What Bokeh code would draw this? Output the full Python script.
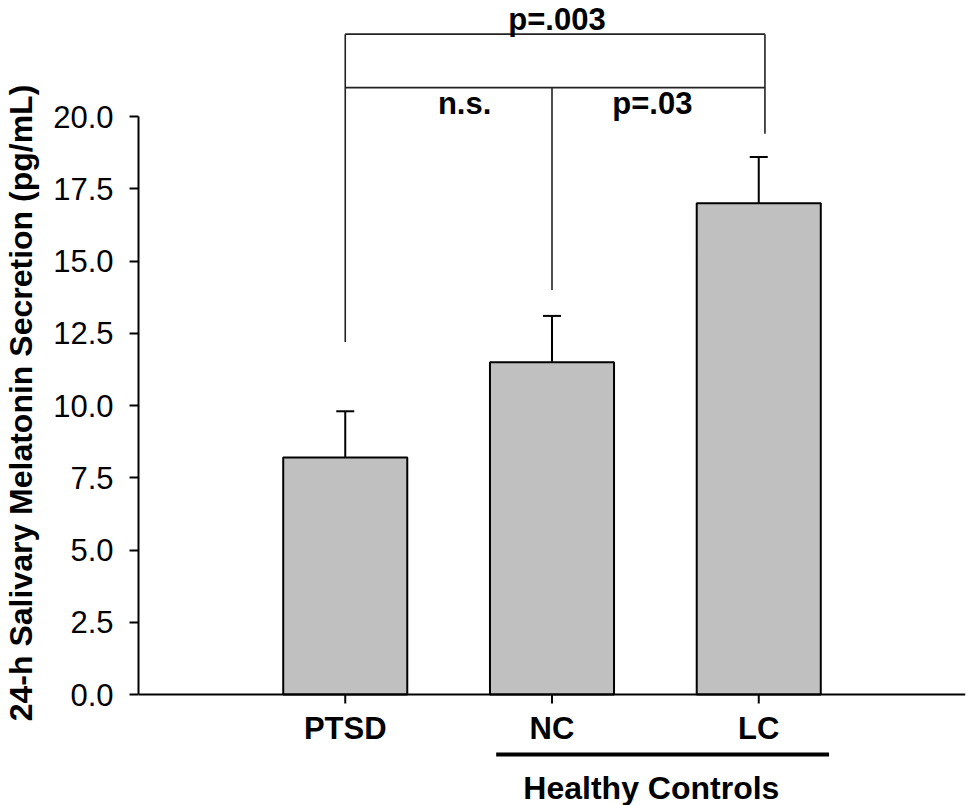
from bokeh.plotting import figure
from bokeh.models import (Range1d, LinearAxis, FixedTicker, NumeralTickFormatter,
                          Span, Whisker, TeeHead, ColumnDataSource)
from bokeh.core.properties import value
from bokeh.embed import file_html
from bokeh.resources import INLINE

# ---------------- data ----------------
groups = ["PTSD", "NC", "LC"]
positions = [1, 2, 3]
means = [8.2, 11.5, 17.0]
sems = [1.6, 1.6, 1.6]
y_ticks = [0, 2.5, 5, 7.5, 10, 12.5, 15, 17.5, 20]
y_label = "24-h Salivary Melatonin Secretion (pg/mL)"
group_label = "Healthy Controls"
group_members = ["NC", "LC"]

# significance brackets (in pg/mL units)
top_level = 22.85
mid_level = 21.0
foot_levels = [12.2, 14.0, 19.4]          # PTSD, NC, LC
p_labels = ["p=.003", "n.s.", "p=.03"]

# ---------------- layout / style ----------------
W, H = 967, 805
PX = 28.9            # pixels per unit on y
ZERO_PX = 694        # canvas y of value 0
FONT = "Liberation Sans"
FS = "31px"
SHIFT = 10           # baseline correction for text glyphs

pos = dict(zip(groups, positions))

p = figure(width=W, height=H, title=None,
           x_range=Range1d(0, 4),
           y_range=Range1d(-(H - ZERO_PX) / PX, ZERO_PX / PX),
           x_axis_type=None, y_axis_type=None,
           output_backend="svg", toolbar_location=None,
           min_border_left=138, min_border_right=2,
           min_border_top=0, min_border_bottom=0)
p.outline_line_color = None
p.background_fill_color = "white"
p.border_fill_color = "white"

# y axis
yax = LinearAxis(bounds=(0, 20), ticker=FixedTicker(ticks=y_ticks),
                 formatter=NumeralTickFormatter(format="0.0"),
                 axis_label=y_label)
yax.axis_line_width = 2
yax.axis_line_color = "black"
yax.major_tick_line_width = 2
yax.major_tick_line_color = "black"
yax.major_tick_in = 0
yax.major_tick_out = 9
yax.minor_tick_line_color = None
yax.major_label_standoff = 16
yax.major_label_text_font = FONT
yax.major_label_text_font_size = FS
yax.major_label_text_color = "black"
yax.axis_label_text_font = FONT
yax.axis_label_text_font_size = "32px"
yax.axis_label_text_font_style = "bold"
yax.axis_label_text_color = "black"
yax.axis_label_standoff = 11
p.add_layout(yax, "left")

# x axis line at 0
p.add_layout(Span(location=0, dimension="width", line_color="black", line_width=2))

# bars
src = ColumnDataSource(dict(x=positions, top=means,
                            err=[m + s for m, s in zip(means, sems)],
                            name=groups))
p.vbar(x="x", top="top", bottom=0, width=0.6, source=src,
       fill_color="#c0c0c0", line_color="black", line_width=2)

# error bars (upper only)
p.add_layout(Whisker(source=src, base="x", lower="top", upper="err",
                     dimension="height", line_color="black", line_width=2,
                     upper_head=TeeHead(size=18, line_color="black", line_width=2),
                     lower_head=None))

# x tick marks and labels
tick = 9 / PX
p.segment(x0=positions, y0=[0] * 3, x1=positions, y1=[-tick] * 3,
          line_color="black", line_width=2)
p.text(x=positions, y=[0] * 3, text=groups, y_offset=46 - SHIFT - 2,
       text_align="center", text_baseline="alphabetic",
       text_font=value(FONT), text_font_size=FS, text_font_style="bold",
       text_color="black")

# healthy controls grouping line and label
gx0 = pos[group_members[0]] - 0.27
gx1 = pos[group_members[-1]] + 0.34
p.segment(x0=[gx0], y0=[-60 / PX], x1=[gx1], y1=[-60 / PX],
          line_color="black", line_width=4)
gmid = (pos[group_members[0]] + pos[group_members[-1]]) / 2
p.text(x=[gmid], y=[0], text=[group_label], y_offset=103 - SHIFT, x_offset=-4,
       text_align="center", text_baseline="alphabetic",
       text_font=value(FONT), text_font_size="32px", text_font_style="bold",
       text_color="black")

# significance brackets
xa, xb, xc = positions
xc_r = xc + 0.03
p.segment(x0=[xa, xa, xa, xc_r, xb], y0=[top_level, mid_level, top_level, top_level, mid_level],
          x1=[xc_r, xc_r, xa, xc_r, xb], y1=[top_level, mid_level, foot_levels[0], foot_levels[2], foot_levels[1]],
          line_color="#222222", line_width=1.6)

p.text(x=[(xa + xc) / 2], y=[top_level], text=[p_labels[0]], x_offset=5, y_offset=-5 - SHIFT,
       text_align="center", text_baseline="alphabetic",
       text_font=value(FONT), text_font_size=FS, text_font_style="bold", text_color="black")
p.text(x=[(xa + xb) / 2, (xb + xc) / 2], y=[mid_level, mid_level], text=p_labels[1:],
       x_offset=[16, -3], y_offset=26 - SHIFT,
       text_align="center", text_baseline="alphabetic",
       text_font=value(FONT), text_font_size=FS, text_font_style="bold", text_color="black")

open("out.html", "w").write(file_html(p, INLINE))
